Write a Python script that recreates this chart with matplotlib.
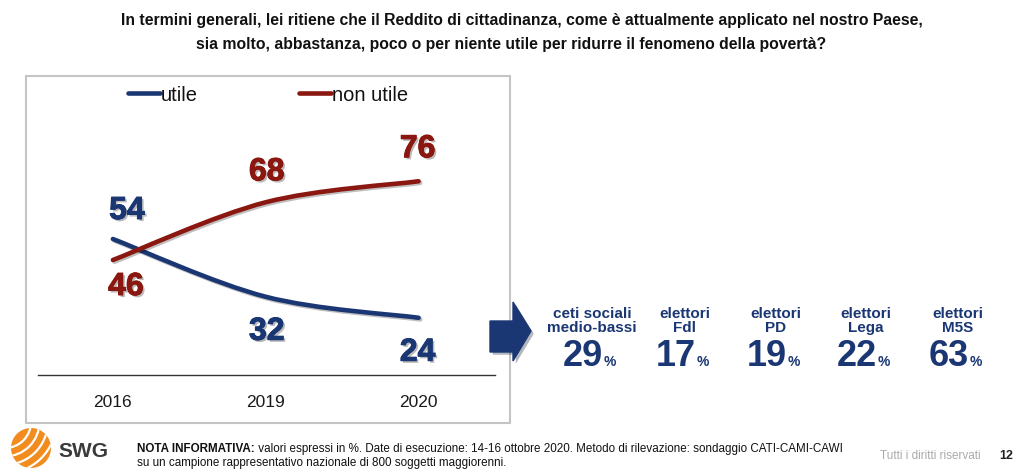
import matplotlib.pyplot as plt
import matplotlib.patheffects as pe
from matplotlib.path import Path
from matplotlib.patches import PathPatch, Rectangle, Polygon, Circle, Arc

# data
years = ['2016', '2019', '2020']
utile = [54, 32, 24]
non_utile = [46, 68, 76]
groups = ['ceti sociali\nmedio-bassi', 'elettori\nFdl', 'elettori\nPD', 'elettori\nLega', 'elettori\nM5S']
group_values = [29, 17, 19, 22, 63]

BLUE = '#1A3774'
RED = '#8A1710'
W, H = 1019, 477

plt.rcParams['font.family'] = ['Liberation Sans', 'DejaVu Sans']

fig = plt.figure(figsize=(W / 100, H / 100), dpi=100)
fig.patch.set_facecolor('white')


def fx(px):
    return px / W


def fy(py):
    return 1 - py / H


def smooth_path(xs, ys):
    # Bezier curve through the points (Excel-like smoothing)
    pts = list(zip(xs, ys))
    verts = [pts[0]]
    codes = [Path.MOVETO]
    n = len(pts)
    for i in range(n - 1):
        p0 = pts[i - 1] if i > 0 else pts[i]
        p1 = pts[i]
        p2 = pts[i + 1]
        p3 = pts[i + 2] if i + 2 < n else pts[i + 1]
        c1 = (p1[0] + (p2[0] - p0[0]) / 6, p1[1] + (p2[1] - p0[1]) / 6)
        c2 = (p2[0] - (p3[0] - p1[0]) / 6, p2[1] - (p3[1] - p1[1]) / 6)
        verts += [c1, c2, p2]
        codes += [Path.CURVE4] * 3
    return Path(verts, codes)


# chart frame
fig.patches.append(Rectangle((fx(26), fy(424)), fx(484), 347 / H, transform=fig.transFigure,
                             fill=False, edgecolor='#C4C4C4', lw=1.5))

# line chart axes: y pixel = 381.75 - 2.625 * value
ymin, ymax = 2.2, 100
top_px = 381.75 - 2.625 * ymax
ax = fig.add_axes([fx(38), fy(376), fx(457), (376 - top_px) / H])
ax.set_xlim(-0.49, 2.5)
ax.set_ylim(ymin, ymax)
ax.patch.set_alpha(0)
for s in ['top', 'right', 'left']:
    ax.spines[s].set_visible(False)
ax.spines['bottom'].set_color('#333333')
ax.spines['bottom'].set_linewidth(1)
ax.set_yticks([])
xs = list(range(len(years)))
ax.set_xticks(xs)
ax.set_xticklabels(years, fontsize=12.5, color='#1a1a1a')
ax.tick_params(axis='x', length=0, pad=14)

shadow = [pe.SimpleLineShadow(offset=(1.2, -1.2), alpha=0.25), pe.Normal()]
for vals, col, lab in [(utile, BLUE, 'utile'), (non_utile, RED, 'non utile')]:
    patch = PathPatch(smooth_path(xs, vals), fill=False, edgecolor=col, lw=3.3,
                      capstyle='round', transform=ax.transData, path_effects=shadow)
    ax.add_patch(patch)
    ax.plot([], [], color=col, lw=3.3, solid_capstyle='round', label=lab)

# value labels
above = [(14, 28), (1, 30), (-1, 32)]
below = [(13, -27), (1, -35), (-1, -35)]
for i in xs:
    hi_is_utile = utile[i] > non_utile[i]
    for vals, col, is_u in [(utile, BLUE, True), (non_utile, RED, False)]:
        off = above[i] if (is_u == hi_is_utile) else below[i]
        t = ax.annotate(str(vals[i]), (i, vals[i]), xytext=off, textcoords='offset pixels',
                        ha='center', va='center', fontsize=23, fontweight='bold', color=col)
        t.set_path_effects([pe.withSimplePatchShadow(offset=(1.5, -1.5), shadow_rgbFace='#777777', alpha=0.5),
                            pe.withStroke(linewidth=0.7, foreground=col)])

leg = ax.legend(loc='center left', bbox_to_anchor=(fx(128), fy(96)), bbox_transform=fig.transFigure,
                ncol=2, frameon=False, fontsize=14.5, handlelength=1.6, handletextpad=0.05,
                columnspacing=5.0, borderpad=0, borderaxespad=0)
for t in leg.get_texts():
    t.set_color('#111111')

# title
fig.text(0.512, fy(20), 'In termini generali, lei ritiene che il Reddito di cittadinanza, come è attualmente applicato nel nostro Paese,',
         ha='center', va='center', fontsize=11.3, fontweight='bold', color='#111111')
fig.text(0.502, fy(44), 'sia molto, abbastanza, poco o per niente utile per ridurre il fenomeno della povertà?',
         ha='center', va='center', fontsize=11.3, fontweight='bold', color='#111111')

# arrow
arrow_px = [(490, 322), (513, 322), (513, 303), (531, 332), (513, 362), (513, 353), (490, 353)]
fig.patches.append(Polygon([(fx(x), fy(y)) for x, y in arrow_px], closed=True, transform=fig.transFigure,
                           facecolor=BLUE, edgecolor=BLUE,
                           path_effects=[pe.withSimplePatchShadow(offset=(2, -2), alpha=0.3)]))

# groups
centers = [592, 685, 776, 866, 958]
for cx, g, v in zip(centers, groups, group_values):
    fig.text(fx(cx), fy(321), g, ha='center', va='center', fontsize=11, fontweight='bold',
             color=BLUE, linespacing=0.95)
    fig.text(fx(cx + 11), fy(366), str(v), ha='right', va='baseline', fontsize=26,
             fontweight='bold', color=BLUE)
    fig.text(fx(cx + 12), fy(366), '%', ha='left', va='baseline', fontsize=10,
             fontweight='bold', color=BLUE)

# footer: logo
cxl, cyl, r = 31, 449, 20
logo_ax = fig.add_axes([fx(cxl - r), fy(cyl + r), fx(2 * r), 2 * r / H])
logo_ax.set_xlim(-1, 1)
logo_ax.set_ylim(-1, 1)
logo_ax.axis('off')
ball = Circle((0, 0), 1, facecolor='#F28C1E', edgecolor='none')
logo_ax.add_patch(ball)
for k in range(5):
    rad = 1.3 + 0.42 * k
    arc = Arc((-1.3, 1.3), 2 * rad, 2 * rad, theta1=270, theta2=360, color='white', lw=1.6)
    logo_ax.add_patch(arc)
    arc.set_clip_path(ball)
fig.text(fx(58), fy(452), 'SWG', ha='left', va='center', fontsize=15, fontweight='bold', color='#3a3a3a')

# footnote
note_fs = 8.4
bold = fig.text(fx(137), fy(449), 'NOTA INFORMATIVA:', ha='left', va='center', fontsize=note_fs,
                fontweight='bold', color='#111111')
fig.add_artist(plt.Annotation(' valori espressi in %. Date di esecuzione: 14-16 ottobre 2020. Metodo di rilevazione: sondaggio CATI-CAMI-CAWI',
                              xy=(1, 0.5), xycoords=bold, ha='left', va='center', fontsize=note_fs, color='#111111'))
fig.text(fx(137), fy(463), 'su un campione rappresentativo nazionale di 800 soggetti maggiorenni.',
         ha='left', va='center', fontsize=note_fs, color='#111111')
fig.text(fx(880), fy(456), 'Tutti i diritti riservati', ha='left', va='center', fontsize=8.5, color='#AAAAAA')
fig.text(fx(999), fy(456), '12', ha='left', va='center', fontsize=9, fontweight='bold', color='#222222')

fig.savefig('out.png', dpi=100, facecolor='white')
